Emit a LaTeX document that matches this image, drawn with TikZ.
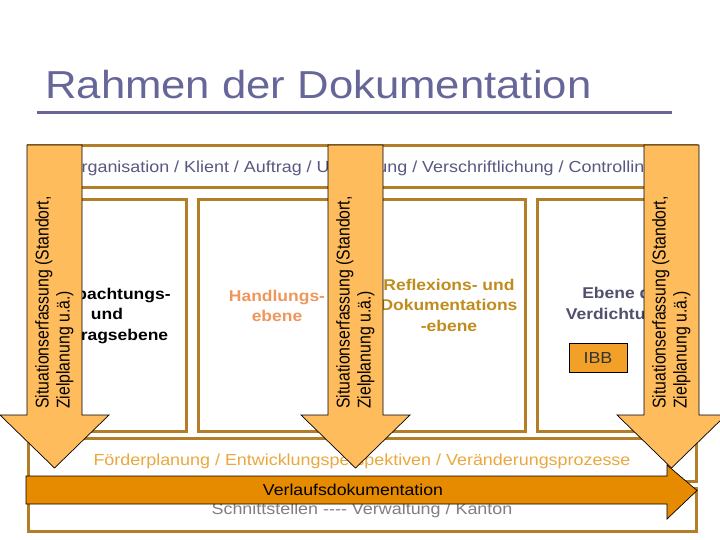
\documentclass[tikz,border=0pt]{standalone}
\usepackage{fontspec}
\setmainfont{Liberation Sans}[FakeStretch=1.12]
\newfontfamily\rotfont{Liberation Sans}
\definecolor{framebrown}{RGB}{180,125,40}
\definecolor{arrowlight}{RGB}{255,188,92}
\definecolor{verlauf}{RGB}{230,138,0}
\definecolor{titleblue}{RGB}{102,102,153}
\definecolor{headgray}{RGB}{88,88,128}
\definecolor{foerder}{RGB}{235,168,60}
\definecolor{schnitt}{RGB}{128,128,128}
\definecolor{handl}{RGB}{240,150,90}
\definecolor{reflex}{RGB}{192,140,30}
\definecolor{verd}{RGB}{80,80,110}
\definecolor{ibbfill}{RGB}{242,160,40}
\newcommand{\sittext}{\scalebox{1}[1.17]{\begin{tabular}{@{}l@{}}Situationserfassung (Standort,\\Zielplanung u.ä.)\end{tabular}}}
\begin{document}
\begin{tikzpicture}[x=1pt,y=-1pt,
  frame/.style={draw=framebrown, line width=3pt},
  downarrow/.style={fill=arrowlight, draw=black, line width=0.7pt},
  coltext/.style={font=\bfseries\fontsize{15.6}{20.5}\selectfont, align=center, inner sep=0pt},
  arrtext/.style={rotate=90, anchor=west, inner sep=0pt,
                  font=\rotfont\fontsize{15.8}{18}\selectfont},
  bandtext/.style={font=\fontsize{16}{19}\selectfont, inner sep=0pt}]
\useasboundingbox (0,0) rectangle (720,540);
\fill[white] (0,0) rectangle (720,540);

% title
\node[anchor=base west, inner sep=0pt, text=titleblue,
      font=\fontsize{39}{47}\selectfont] (title) at (45,99) {Rahmen der Dokumentation};
\coordinate (ulA) at (37,113);
\coordinate (ulB) at (672,113);
\draw[titleblue, line width=3pt] (ulA) -- (ulB);

% frames
\draw[frame] (28,146) rectangle (696,188);
\draw[frame] (28,200) rectangle (186,431);
\draw[frame] (198,200) rectangle (356,431);
\draw[frame] (372,200) rectangle (525,431);
\draw[frame] (537,200) rectangle (696,431);
\draw[frame] (28,438) rectangle (696,481);
\draw[frame] (28,488) rectangle (696,531);

% band texts
\node[bandtext, text=headgray] (hdr) at (361,168)
  {Organisation / Klient / Auftrag / Umsetzung / Verschriftlichung / Controlling};
\node[bandtext, text=foerder] (foe) at (362,461)
  {Förderplanung / Entwicklungsperspektiven / Veränderungsprozesse};
\node[bandtext, text=schnitt] (sch) at (362,510)
  {Schnittstellen {-}{-}{-}{-} Verwaltung / Kanton};

% column texts
\node[coltext] (c1) at (107,316) {Beobachtungs-\\und\\Auftragsebene};
\node[coltext, text=handl] (c2) at (277,306) {Handlungs-\\ebene};
\node[coltext, text=reflex] (c3) at (449,305) {Reflexions- und\\Dokumentations\\-ebene};
\node[coltext, text=verd, align=right, anchor=east] (c4) at (667,305) {Ebene der\\Verdichtung};
\node[draw=black, line width=0.6pt, fill=ibbfill, minimum width=58pt, minimum height=29pt,
      inner sep=0pt, text=black!80, font=\fontsize{16}{19}\selectfont] (ibb) at (598,357.5) {IBB};

% down arrows
\draw[downarrow] (27,145) -- (27,415) -- (0,415) -- (54.5,468) -- (109,415) -- (82,415) -- (82,145) -- cycle;
\draw[downarrow] (328,145) -- (328,415) -- (301,415) -- (355.5,468) -- (410,415) -- (383,415) -- (383,145) -- cycle;
\draw[downarrow] (644,145) -- (644,415) -- (617,415) -- (671.5,468) -- (726,415) -- (699,415) -- (699,145) -- cycle;
\node[arrtext] (s1) at (55,409) {\sittext};
\node[arrtext] (s2) at (356,409) {\sittext};
\node[arrtext] (s3) at (672,409) {\sittext};

% Verlauf arrow
\draw[fill=verlauf, draw=black, line width=0.7pt]
  (26,476) -- (667,476) -- (667,465) -- (697,490.5) -- (667,519) -- (667,504) -- (26,504) -- cycle;
\node[inner sep=0pt, font=\fontsize{15.8}{19}\selectfont] (vl) at (353,490) {Verlaufsdokumentation};
\end{tikzpicture}
\end{document}
